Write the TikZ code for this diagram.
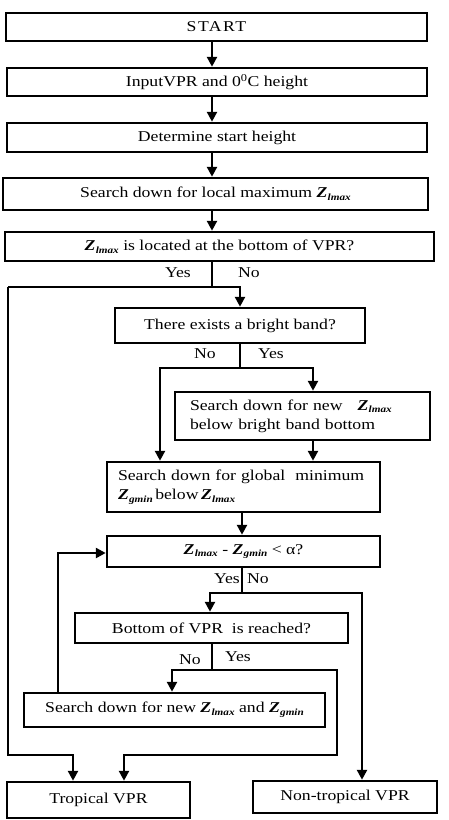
\documentclass[tikz,border=0pt]{standalone}
\usepackage{fontspec}
\setmainfont{Liberation Serif}[FakeStretch=1.18]
\usetikzlibrary{arrows.meta}
\newcommand{\Zs}[1]{\textbf{\textit{Z}}\kern0.3pt\raisebox{-0.4ex}{\fontsize{9.5}{9.5}\selectfont\bfseries\itshape #1}}
\begin{document}
\begin{tikzpicture}[x=1pt,y=-1pt,
  box/.style={draw,line width=2.5pt,inner sep=0pt,font=\fontsize{15}{19}\selectfont},
  conn/.style={line width=2.5pt},
  arr/.style={conn,-{Triangle[length=10pt,width=10pt]}},
  lbl/.style={font=\fontsize{15}{18}\selectfont,inner sep=0pt}]
\useasboundingbox (0,0) rectangle (448,820);
\fill[white] (0,0) rectangle (448,820);
% boxes
\node[box,minimum width=421pt,minimum height=28pt] (b1) at (216.5,27) {\addfontfeature{LetterSpace=10}START};
\node[box,minimum width=420pt,minimum height=28pt] (b2) at (217,82) {InputVPR and 0\textsuperscript{0}C height};
\node[box,minimum width=420pt,minimum height=29pt] (b3) at (217,137.5) {Determine start height};
\node[box,minimum width=425pt,minimum height=32pt] (b4) at (215.5,194) {Search down for local maximum \Zs{lmax}};
\node[box,minimum width=429pt,minimum height=29pt] (b5) at (219.5,246.5) {\Zs{lmax} is located at the bottom of VPR?};
\node[box,minimum width=250pt,minimum height=35pt] (b6) at (240,325.5) {There exists a bright band?};
\node[box,minimum width=255pt,minimum height=48pt,text width=225pt,align=left] (b7) at (302.5,416) {Search down for new\quad\Zs{lmax}\\below bright band bottom};
\node[box,minimum width=273pt,minimum height=50pt,text width=251pt,align=left] (b8) at (243.5,487) {Search down for global\ \ minimum\\\Zs{gmin}\,below\,\Zs{lmax}};
\node[box,minimum width=273pt,minimum height=31pt] (b9) at (243.5,551.5) {\Zs{lmax} - \Zs{gmin} < α?};
\node[box,minimum width=273pt,minimum height=30pt] (b10) at (211.5,628) {Bottom of VPR\ \ is reached?};
\node[box,minimum width=301pt,minimum height=34pt] (b11) at (174.5,710) {Search down for new \Zs{lmax} and \Zs{gmin}};
\node[box,minimum width=183pt,minimum height=36pt] (trop) at (98.5,800) {Tropical VPR};
\node[box,minimum width=184pt,minimum height=32pt] (nontrop) at (345,797) {Non-tropical VPR};
% coordinates
\coordinate (ax) at (212,0);
\coordinate (j1) at (212,287);
\coordinate (l1) at (8,287);
\coordinate (l2) at (8,755);
\coordinate (t1) at (73,755);
\coordinate (j2) at (240,368);
\coordinate (l3) at (160,368);
\coordinate (r3) at (313,368);
\coordinate (bx) at (242,0);
\coordinate (j3) at (242,593);
\coordinate (l4) at (210,593);
\coordinate (r4) at (362,593);
\coordinate (j4) at (212,670);
\coordinate (l5) at (172,670);
\coordinate (r5) at (337,670);
\coordinate (r6) at (337,755);
\coordinate (t2) at (124,755);
\coordinate (lp) at (58,553);
% connectors
\draw[arr] (b1.south -| ax) -- (b2.north -| ax);
\draw[arr] (b2.south -| ax) -- (b3.north -| ax);
\draw[arr] (b3.south -| ax) -- (b4.north -| ax);
\draw[arr] (b4.south -| ax) -- (b5.north -| ax);
\draw[conn] (b5.south -| j1) -- (j1);
\draw[arr] (l1) -- (j1 -| b6.north) -- (b6.north);
\draw[arr] (l1) -- (l2) -- (t1) -- (t1 |- trop.north);
\node[lbl] (y1) at (178,273) {Yes};
\node[lbl] (n1) at (249,273) {No};
\draw[conn] (b6.south) -- (j2);
\draw[arr] (r3) -- (l3) -- (l3 |- b8.north);
\draw[arr] (l3) -- (r3) -- (r3 |- b7.north);
\node[lbl] (n2) at (205,354) {No};
\node[lbl] (y2) at (271,354) {Yes};
\draw[arr] (b7.south -| r3) -- (b8.north -| r3);
\draw[arr] (b8.south -| bx) -- (b9.north -| bx);
\draw[conn] (b9.south -| j3) -- (j3);
\draw[arr] (r4) -- (l4) -- (l4 |- b10.north);
\draw[arr] (l4) -- (r4) -- (r4 |- nontrop.north);
\node[lbl] (y3) at (227,579) {Yes};
\node[lbl] (n3) at (258,579) {No};
\draw[conn] (b10.south -| j4) -- (j4);
\draw[arr] (r5) -- (l5) -- (l5 |- b11.north);
\draw[arr] (l5) -- (r5) -- (r6) -- (t2) -- (t2 |- trop.north);
\node[lbl] (n4) at (190,660) {No};
\node[lbl] (y4) at (238,657) {Yes};
\draw[arr] (b11.north -| lp) -- (lp) -- (lp -| b9.west);
\end{tikzpicture}
\end{document}
